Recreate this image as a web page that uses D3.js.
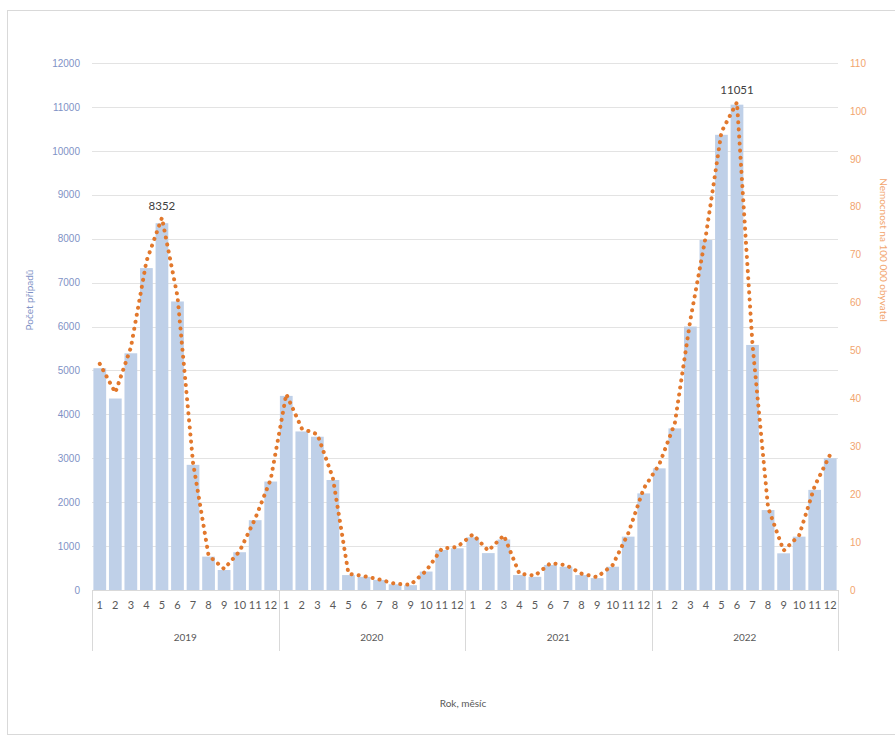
<!DOCTYPE html>
<html>
<head>
<meta charset="utf-8">
<script src="https://cdn.jsdelivr.net/npm/d3@7"></script>
<style>
  html, body { margin: 0; padding: 0; background: #fff; }
  svg { display: block; font-family: Lato, "Open Sans", sans-serif; }
</style>
</head>
<body>
<svg id="chart" width="895" height="737"></svg>
<script>
// Monthly case counts and incidence per 100 000 inhabitants, 2019–2022
const years = ["2019", "2020", "2021", "2022"];
const months = ["1","2","3","4","5","6","7","8","9","10","11","12"];

const cases2019 = [5050, 4360, 5390, 7330, 8352, 6570, 2850, 760, 455, 860, 1590, 2470];
const cases2020 = [4420, 3610, 3490, 2505, 340, 300, 230, 130, 110, 420, 910, 950];
const cases2021 = [1200, 840, 1150, 340, 300, 570, 530, 340, 270, 530, 1215, 2200];
const cases2022 = [2770, 3680, 6000, 7970, 10365, 11051, 5580, 1820, 835, 1215, 2280, 3000];

const inc2019 = [47.2, 41.2, 50.6, 68.6, 77.7, 61.3, 26.6, 7.2, 4.4, 8.1, 14.9, 23.1];
const inc2020 = [40.9, 33.7, 32.5, 23.4, 3.4, 2.9, 2.2, 1.3, 1.1, 4.0, 8.6, 9.0];
const inc2021 = [11.6, 8.2, 11.4, 3.4, 3.0, 5.6, 5.2, 3.4, 2.7, 5.2, 11.8, 21.2];
const inc2022 = [26.2, 34.8, 56.4, 74.0, 95.6, 101.8, 51.2, 17.2, 8.2, 11.4, 21.7, 28.3];

const leftTicks = [0,1000,2000,3000,4000,5000,6000,7000,8000,9000,10000,11000,12000];
const rightTicks = [0,10,20,30,40,50,60,70,80,90,100,110];

const labelledPoints = [{ year: "2019", month: "5" }, { year: "2022", month: "6" }];

const cases = [cases2019, cases2020, cases2021, cases2022];
const incidence = [inc2019, inc2020, inc2021, inc2022];

const data = [];
years.forEach((y, yi) => months.forEach((m, mi) => {
  data.push({ key: y + "-" + m, year: y, month: m, cases: cases[yi][mi], inc: incidence[yi][mi] });
}));

const svg = d3.select("#chart");
const plotLeft = 92, plotRight = 838, plotTop = 63, plotBottom = 590;

// Outer frame of the chart
svg.append("rect").attr("x", 7.5).attr("y", 10.5).attr("width", 900).attr("height", 724)
  .attr("fill", "#fff").attr("stroke", "#d9d9d9").attr("stroke-width", 1);

const x = d3.scaleBand().domain(data.map(d => d.key)).range([plotLeft, plotRight]).paddingInner(0.18).paddingOuter(0.09);
const yL = d3.scaleLinear().domain([0, 12000]).range([plotBottom, plotTop]);
const yR = d3.scaleLinear().domain([0, 110]).range([plotBottom, plotTop]);

// Horizontal gridlines
svg.append("g").selectAll("line").data(leftTicks.filter(t => t > 0)).join("line")
  .attr("x1", plotLeft).attr("x2", plotRight)
  .attr("y1", d => Math.round(yL(d)) + 0.5).attr("y2", d => Math.round(yL(d)) + 0.5)
  .attr("stroke", "#e3e3e3").attr("stroke-width", 1);

// Bars
svg.append("g").selectAll("rect").data(data).join("rect")
  .attr("x", d => x(d.key)).attr("width", x.bandwidth())
  .attr("y", d => yL(d.cases)).attr("height", d => yL(0) - yL(d.cases))
  .attr("fill", "#bfd0e8");

// Baseline
svg.append("line").attr("x1", plotLeft).attr("x2", plotRight)
  .attr("y1", plotBottom + 0.5).attr("y2", plotBottom + 0.5).attr("stroke", "#d9d9d9");

// Incidence line, round-dotted
const line = d3.line().x(d => x(d.key) + x.bandwidth() / 2).y(d => yR(d.inc));
svg.append("path").datum(data).attr("d", line)
  .attr("fill", "none").attr("stroke", "#e2782c").attr("stroke-width", 4)
  .attr("stroke-linecap", "round").attr("stroke-dasharray", "0.1 7");

// Left axis
const axL = svg.append("g").attr("transform", `translate(${plotLeft - 8},0)`)
  .call(d3.axisLeft(yL).tickValues(leftTicks).tickSize(0).tickPadding(4).tickFormat(d3.format("d")));
axL.select(".domain").remove();
axL.selectAll("text").attr("fill", "#7f92c6").attr("font-size", 10);

// Right axis
const axR = svg.append("g").attr("transform", `translate(${plotRight + 8},0)`)
  .call(d3.axisRight(yR).tickValues(rightTicks).tickSize(0).tickPadding(4).tickFormat(d3.format("d")));
axR.select(".domain").remove();
axR.selectAll("text").attr("fill", "#f2a56e").attr("font-size", 10);

// Month labels
svg.append("g").selectAll("text").data(data).join("text")
  .attr("x", d => x(d.key) + x.bandwidth() / 2).attr("y", 609)
  .attr("text-anchor", "middle").attr("font-size", 11).attr("fill", "#595959")
  .text(d => d.month);

// Year group separators and labels
const yearStep = (plotRight - plotLeft) / years.length;
const yx = d3.scaleOrdinal().domain(years).range(years.map((_, i) => plotLeft + i * yearStep));
svg.append("g").selectAll("line").data([...years, "end"]).join("line")
  .attr("x1", (d, i) => Math.round(plotLeft + i * yearStep) + 0.5)
  .attr("x2", (d, i) => Math.round(plotLeft + i * yearStep) + 0.5)
  .attr("y1", plotBottom).attr("y2", 651)
  .attr("stroke", "#d9d9d9");
svg.append("g").selectAll("text").data(years).join("text")
  .attr("x", d => yx(d) + yearStep / 2).attr("y", 641)
  .attr("text-anchor", "middle").attr("font-size", 10).attr("fill", "#595959")
  .text(d => d);

// Value labels at the two peaks
const byKey = new Map(data.map(d => [d.key, d]));
svg.append("g").selectAll("text").data(labelledPoints.map(p => byKey.get(p.year + "-" + p.month))).join("text")
  .attr("x", d => x(d.key) + x.bandwidth() / 2)
  .attr("y", d => Math.min(yL(d.cases), yR(d.inc)) - 8)
  .attr("text-anchor", "middle").attr("font-size", 11.5).attr("fill", "#404040")
  .text(d => d.cases);

// Axis titles
svg.append("text").attr("transform", "translate(33,300) rotate(-90)")
  .attr("text-anchor", "middle").attr("font-size", 10).attr("fill", "#7f92c6").text("Počet případů");
svg.append("text").attr("transform", "translate(880,250) rotate(90)")
  .attr("text-anchor", "middle").attr("font-size", 10).attr("fill", "#f2a56e").text("Nemocnost na 100 000 obyvatel");
svg.append("text").attr("x", 463).attr("y", 707)
  .attr("text-anchor", "middle").attr("font-size", 10).attr("fill", "#595959").text("Rok, měsíc");
</script>
</body>
</html>
